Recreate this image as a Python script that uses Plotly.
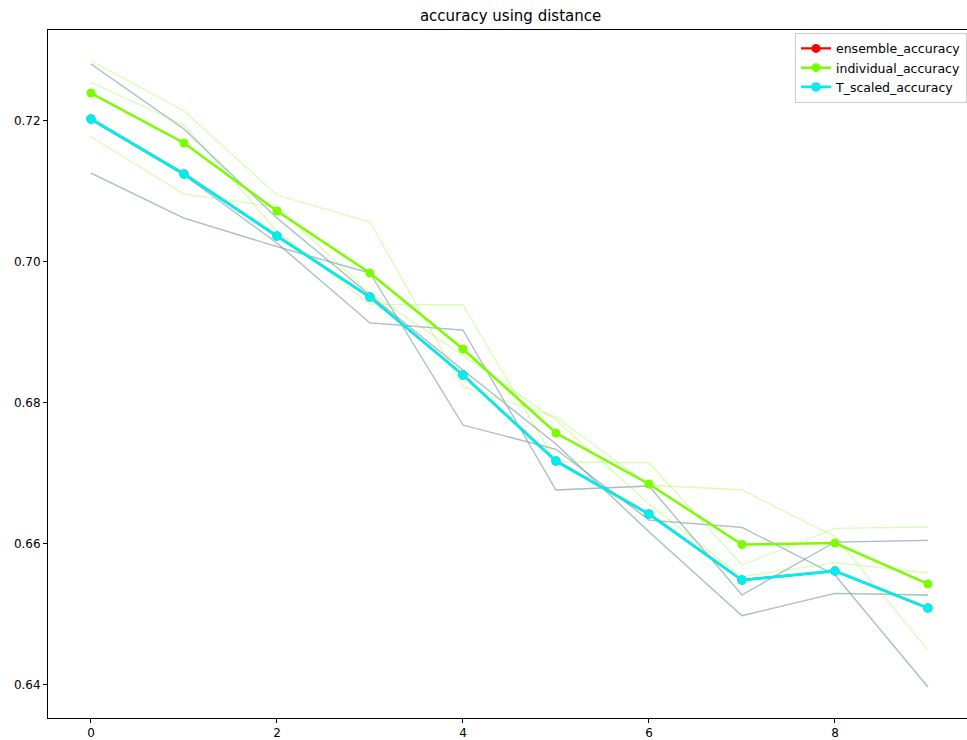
import plotly.graph_objects as go

steps = list(range(10))

# mean curves
individual_accuracy = [0.72390, 0.71681, 0.70716, 0.69837, 0.68759, 0.67567, 0.66844, 0.65986, 0.66007, 0.65426]
ensemble_accuracy = [0.72021, 0.71241, 0.70362, 0.69496, 0.68390, 0.67170, 0.66418, 0.65482, 0.65610, 0.65085]
T_scaled_accuracy = [0.72021, 0.71241, 0.70362, 0.69496, 0.68390, 0.67170, 0.66418, 0.65482, 0.65610, 0.65085]

# individual runs (individual accuracy)
ind_run_a = [0.72542, 0.71936, 0.70433, 0.69397, 0.69383, 0.67156, 0.67146, 0.65695, 0.66216, 0.66234]
ind_run_b = [0.72848, 0.72135, 0.70943, 0.70560, 0.68224, 0.67794, 0.66830, 0.66759, 0.66096, 0.64489]
ind_run_c = [0.71770, 0.70957, 0.70773, 0.69553, 0.68670, 0.67752, 0.66560, 0.65529, 0.65728, 0.65582]

# individual runs (ensemble == T_scaled)
ens_run_a = [0.72801, 0.71879, 0.70617, 0.69525, 0.68461, 0.67411, 0.66167, 0.64976, 0.65294, 0.65270]
ens_run_b = [0.72007, 0.71227, 0.70262, 0.69128, 0.69028, 0.66759, 0.66816, 0.65270, 0.66021, 0.66045]
ens_run_c = [0.71255, 0.70617, 0.70210, 0.69837, 0.67681, 0.67336, 0.66333, 0.66230, 0.65553, 0.63965]

RED = "#ff0000"
GREEN = "#7cfc00"
CYAN = "#00eeee"

fig = go.Figure()

for run in (ens_run_a, ens_run_b, ens_run_c):
    fig.add_trace(go.Scatter(x=steps, y=run, mode="lines", showlegend=False,
                             line=dict(color="rgba(255,0,0,0.36)", width=1.3), hoverinfo="skip"))
for run in (ind_run_a, ind_run_b, ind_run_c):
    fig.add_trace(go.Scatter(x=steps, y=run, mode="lines", showlegend=False,
                             line=dict(color="rgba(124,252,0,0.3)", width=1.3), hoverinfo="skip"))
for run in (ens_run_a, ens_run_b, ens_run_c):
    fig.add_trace(go.Scatter(x=steps, y=run, mode="lines", showlegend=False,
                             line=dict(color="rgba(0,255,255,0.36)", width=1.3), hoverinfo="skip"))

fig.add_trace(go.Scatter(x=steps, y=ensemble_accuracy, mode="lines+markers", name="ensemble_accuracy",
                         line=dict(color=RED, width=2.2), marker=dict(color=RED, size=9)))
fig.add_trace(go.Scatter(x=steps, y=individual_accuracy, mode="lines+markers", name="individual_accuracy",
                         line=dict(color=GREEN, width=2.5), marker=dict(color=GREEN, size=9)))
fig.add_trace(go.Scatter(x=steps, y=T_scaled_accuracy, mode="lines+markers", name="T_scaled_accuracy",
                         line=dict(color=CYAN, width=2.8), marker=dict(color=CYAN, size=9.5)))

fig.update_layout(
    width=967, height=740,
    margin=dict(l=48, r=0, t=30, b=22),
    paper_bgcolor="white", plot_bgcolor="white",
    font=dict(family="DejaVu Sans", size=12, color="black"),
    title=dict(text="accuracy using distance", x=0.528, xanchor="center",
               y=1 - 16 / 740, yanchor="middle", font=dict(size=15, color="black")),
    legend=dict(x=1.0, xanchor="right", y=0.996, yanchor="top",
                bgcolor="rgba(255,255,255,0.8)", bordercolor="#cccccc", borderwidth=1,
                font=dict(size=12.5, color="black"), tracegroupgap=0, itemwidth=30),
    showlegend=True,
)
fig.update_xaxes(range=[-0.462, 9.42], tickvals=[0, 2, 4, 6, 8], ticktext=["0", "2", "4", "6", "8"],
                 showgrid=False, zeroline=False, showline=True, linecolor="black", linewidth=1,
                 mirror=True, ticks="outside", ticklen=4, tickcolor="black")
fig.update_yaxes(range=[0.63525, 0.73284], tickvals=[0.64, 0.66, 0.68, 0.70, 0.72],
                 ticktext=["0.64", "0.66", "0.68", "0.70", "0.72"],
                 showgrid=False, zeroline=False, showline=True, linecolor="black", linewidth=1,
                 mirror=False, ticks="outside", ticklen=4, tickcolor="black")

fig.write_html("out.html", config={"displayModeBar": False},
               post_script="document.body.style.margin='0';document.body.style.overflow='hidden';")
